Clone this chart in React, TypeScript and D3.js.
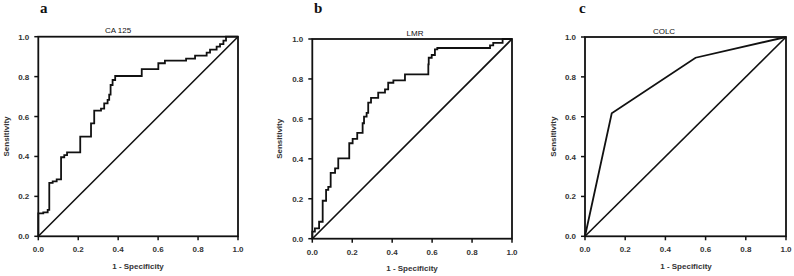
import React from "react";
import * as d3 from "d3";

// ROC curve vertices (1 - specificity, sensitivity)
const ca125Fpr = [0, 0, 0.025, 0.047, 0.055, 0.072, 0.092, 0.114, 0.13, 0.144, 0.21, 0.264, 0.28, 0.314, 0.33, 0.347, 0.355, 0.362, 0.372, 0.385, 0.518, 0.601, 0.634, 0.74, 0.785, 0.843, 0.86, 0.893, 0.91, 0.927, 0.94, 1];
const ca125Tpr = [0, 0.115, 0.12, 0.132, 0.268, 0.275, 0.285, 0.396, 0.407, 0.42, 0.499, 0.566, 0.63, 0.64, 0.666, 0.683, 0.71, 0.758, 0.783, 0.803, 0.838, 0.867, 0.88, 0.89, 0.905, 0.92, 0.935, 0.95, 0.963, 0.98, 1, 1];

const lmrFpr = [0, 0, 0.013, 0.034, 0.052, 0.069, 0.08, 0.092, 0.114, 0.13, 0.185, 0.202, 0.225, 0.252, 0.259, 0.272, 0.28, 0.294, 0.33, 0.364, 0.38, 0.406, 0.464, 0.581, 0.583, 0.598, 0.614, 0.626, 0.89, 0.906, 0.953, 1];
const lmrTpr = [0, 0.035, 0.052, 0.085, 0.19, 0.244, 0.26, 0.33, 0.352, 0.402, 0.478, 0.5, 0.53, 0.578, 0.611, 0.63, 0.681, 0.705, 0.731, 0.748, 0.781, 0.793, 0.823, 0.873, 0.906, 0.92, 0.948, 0.955, 0.968, 0.981, 1, 1];

const colcFpr = [0, 0.133, 0.55, 1];
const colcTpr = [0, 0.617, 0.896, 1];

const tickValues = [0, 0.2, 0.4, 0.6, 0.8, 1.0];
const panelLetters = ["a", "b", "c"];
const panelTitles = ["CA 125", "LMR", "COLC"];
const xAxisTitle = "1 - Specificity";
const yAxisTitle = "Sensitivity";

type Panel = {
  letter: string;
  title: string;
  fpr: number[];
  tpr: number[];
  step: boolean;
  x0: number; x1: number; y0: number; y1: number;
  titleX: number; titleY: number;
  letterX: number;
  yLabelX: number;
  xLabelX: number; xLabelY: number;
};

const panels: Panel[] = [
  { letter: panelLetters[0], title: panelTitles[0], fpr: ca125Fpr, tpr: ca125Tpr, step: true,
    x0: 38.3, x1: 238, y0: 236.3, y1: 36.7, titleX: 118, titleY: 33, letterX: 40, yLabelX: 9, xLabelX: 138, xLabelY: 269 },
  { letter: panelLetters[1], title: panelTitles[1], fpr: lmrFpr, tpr: lmrTpr, step: true,
    x0: 312.3, x1: 512, y0: 238.7, y1: 39, titleX: 415, titleY: 36, letterX: 314, yLabelX: 282, xLabelX: 412, xLabelY: 271 },
  { letter: panelLetters[2], title: panelTitles[2], fpr: colcFpr, tpr: colcTpr, step: false,
    x0: 585, x1: 786, y0: 236.3, y1: 37, titleX: 664, titleY: 34, letterX: 579, yLabelX: 556, xLabelX: 686, xLabelY: 269 },
];

const fontSans = "'Liberation Sans', Arial, sans-serif";
const fmt = d3.format(".1f");

function RocPanel({ p }: { p: Panel }) {
  const x = d3.scaleLinear().domain([0, 1]).range([p.x0, p.x1]);
  const y = d3.scaleLinear().domain([0, 1]).range([p.y0, p.y1]);
  const pts: [number, number][] = p.fpr.map((f, i) => [f, p.tpr[i]]);
  const line = d3
    .line<[number, number]>()
    .x((d) => x(d[0]))
    .y((d) => y(d[1]))
    .curve(p.step ? d3.curveStepAfter : d3.curveLinear);
  const diag = d3.line<[number, number]>().x((d) => x(d[0])).y((d) => y(d[1]));
  const tickLen = 4;
  return (
    <g>
      <text x={p.letterX} y={13} fontFamily="'Liberation Serif', 'Times New Roman', serif" fontWeight="bold" fontSize={15} fill="#111">
        {p.letter}
      </text>
      <text x={p.titleX} y={p.titleY} textAnchor="middle" fontFamily={fontSans} fontSize={8} fill="#111">
        {p.title}
      </text>
      <path d={diag([[0, 0], [1, 1]]) || ""} fill="none" stroke="#111" strokeWidth={1.6} />
      <path d={line(pts) || ""} fill="none" stroke="#111" strokeWidth={1.8} strokeLinejoin="miter" />
      <rect x={x(0)} y={y(1)} width={x(1) - x(0)} height={y(0) - y(1)} fill="none" stroke="#111" strokeWidth={1.8} />
      {tickValues.map((t) => (
        <g key={"y" + t}>
          <line x1={x(0) - tickLen} x2={x(0)} y1={y(t)} y2={y(t)} stroke="#111" strokeWidth={1.5} />
          <text x={x(0) - tickLen - 5} y={y(t) + 3} textAnchor="end" fontFamily={fontSans} fontWeight="bold" fontSize={8} fill="#333">
            {fmt(t)}
          </text>
        </g>
      ))}
      {tickValues.map((t) => (
        <g key={"x" + t}>
          <line x1={x(t)} x2={x(t)} y1={y(0)} y2={y(0) + tickLen} stroke="#111" strokeWidth={1.5} />
          <text x={x(t)} y={y(0) + 16} textAnchor="middle" fontFamily={fontSans} fontWeight="bold" fontSize={8} fill="#333">
            {fmt(t)}
          </text>
        </g>
      ))}
      <text x={p.xLabelX} y={p.xLabelY} textAnchor="middle" fontFamily={fontSans} fontWeight="bold" fontSize={8} fill="#333">
        {xAxisTitle}
      </text>
      <text
        transform={`translate(${p.yLabelX},${(p.y0 + p.y1) / 2}) rotate(-90)`}
        textAnchor="middle"
        fontFamily={fontSans}
        fontWeight="bold"
        fontSize={8}
        fill="#333"
      >
        {yAxisTitle}
      </text>
    </g>
  );
}

export default function App() {
  return (
    <svg width={794} height={276} style={{ position: "absolute", left: 0, top: 0, background: "#fff" }}>
      <rect x={0} y={0} width={794} height={276} fill="#fff" />
      {panels.map((p) => (
        <RocPanel key={p.letter} p={p} />
      ))}
    </svg>
  );
}
